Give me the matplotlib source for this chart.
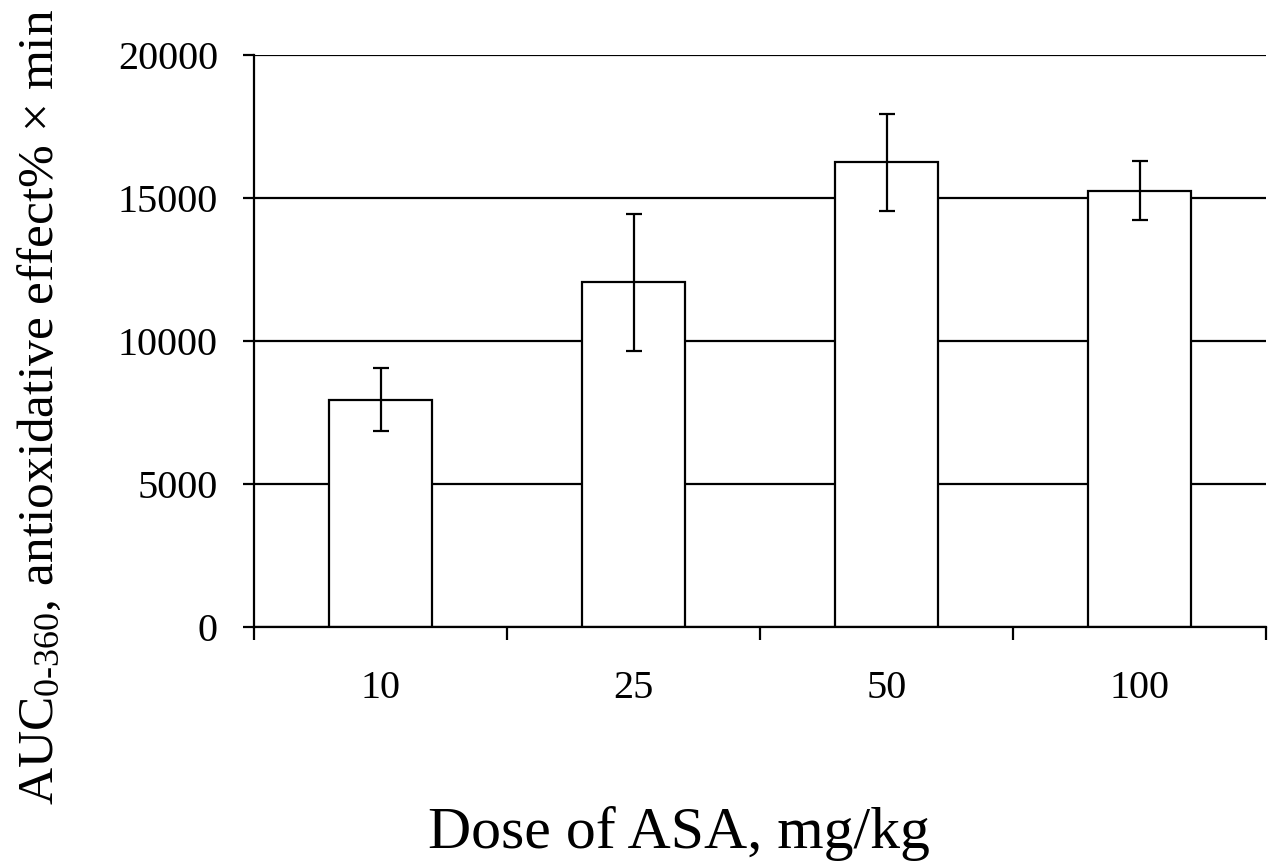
import matplotlib
matplotlib.use("Agg")
import matplotlib.pyplot as plt
import numpy as np

# Antioxidative effect AUC by ASA dose
doses = ["10", "25", "50", "100"]
auc_mean = [7950, 12050, 16250, 15250]
auc_err = [1100, 2400, 1700, 1030]

plt.rcParams["font.family"] = ["Liberation Serif", "DejaVu Serif"]
plt.rcParams["mathtext.fontset"] = "custom"
plt.rcParams["mathtext.rm"] = "Liberation Serif"
plt.rcParams["mathtext.it"] = "Liberation Serif:italic"

fig = plt.figure(figsize=(12.68, 8.65), dpi=100)
ax = fig.add_axes([254 / 1268, 1 - 627 / 865, 1012 / 1268, 572 / 865])

x = np.arange(len(doses))
lw = 1.6

ax.set_axisbelow(True)
ax.yaxis.grid(True, color="black", linewidth=lw)
ax.bar(x, auc_mean, width=0.41, color="white", edgecolor="black",
       linewidth=lw, zorder=2)
ax.errorbar(x, auc_mean, yerr=auc_err, fmt="none", ecolor="black",
            elinewidth=lw, capsize=5.5, capthick=lw, zorder=3)

ax.set_xlim(-0.5, len(doses) - 0.5)
ax.set_ylim(0, 20000)
ax.set_yticks(np.arange(0, 20001, 5000))

# category labels centred, ticks on category boundaries
ax.set_xticks(x)
ax.set_xticklabels(doses)
ax.set_xticks(np.arange(-0.5, len(doses)), minor=True)
ax.tick_params(axis="x", which="major", length=0, pad=31, labelsize=29)
ax.tick_params(axis="x", which="minor", length=9, width=lw, direction="out")
ax.tick_params(axis="y", length=8, width=lw, pad=18, labelsize=29)

for side in ["top", "right"]:
    ax.spines[side].set_visible(False)
for side in ["left", "bottom"]:
    ax.spines[side].set_linewidth(lw)

fig.text(679 / 1268, 1 - 848 / 865, "Dose of ASA, mg/kg", fontsize=43,
         ha="center", va="baseline")
fig.text(64 / 1268, 1 - 805 / 865,
         r"AUC$_{\mathregular{0\text{-}360}}$, antioxidative effect% × min",
         fontsize=37, rotation=90, ha="right", va="bottom")

fig.savefig("out.png", dpi=100)
